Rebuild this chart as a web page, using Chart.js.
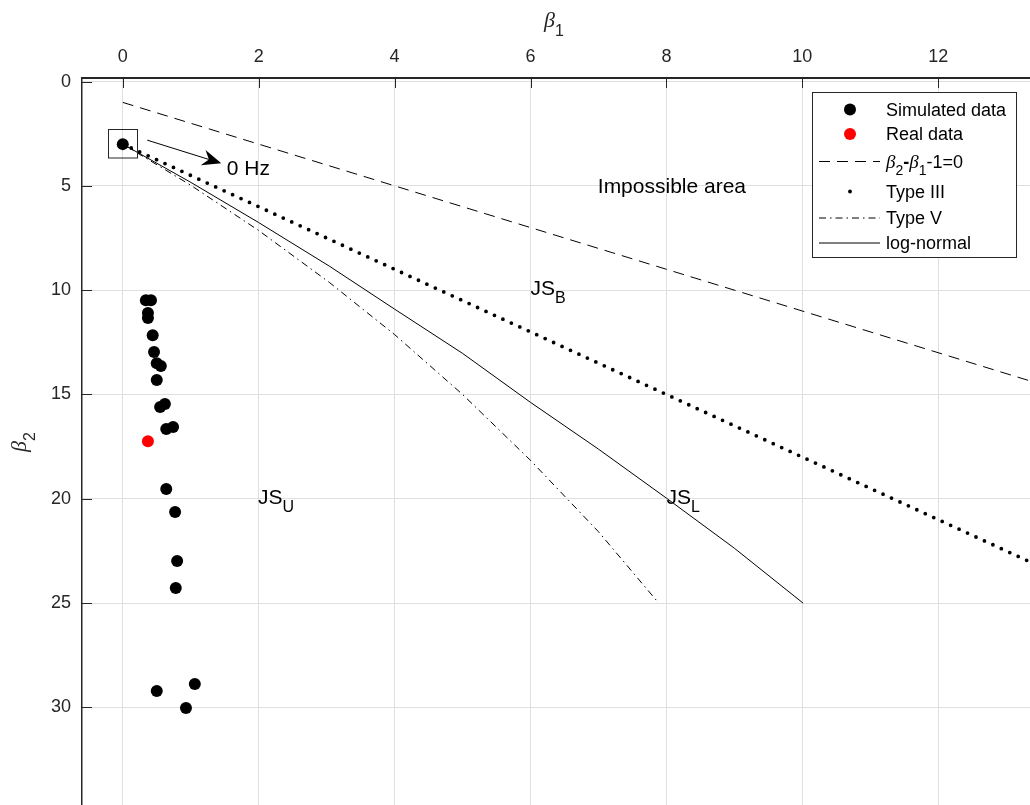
<!DOCTYPE html>
<html>
<head>
<meta charset="utf-8">
<title>β1–β2 plane</title>
<script src="https://cdn.jsdelivr.net/npm/chart.js@4/dist/chart.umd.min.js"></script>
<style>
  html, body { margin: 0; padding: 0; background: #ffffff; overflow: hidden; }
  canvas { display: block; }
</style>
</head>
<body>
<canvas id="c" width="1030" height="805"></canvas>
<script>
// Simulated (β1, β2) pairs; the first one is the 0 Hz case
const simulatedB1 = [0, 0.34, 0.415, 0.37, 0.37, 0.44, 0.46, 0.50, 0.56, 0.50, 0.62, 0.55, 0.74, 0.64, 0.64, 0.77, 0.80, 0.78, 1.06, 0.50, 0.93];
const simulatedB2 = [3.0, 10.48, 10.48, 11.10, 11.34, 12.16, 12.97, 13.50, 13.64, 14.31, 15.46, 15.60, 16.56, 16.66, 19.53, 20.64, 22.98, 24.28, 28.88, 29.21, 30.03];

// Measured record
const realB1 = [0.37];
const realB2 = [17.24];

// Limit line β2 - β1 - 1 = 0
const limitB1 = [0, 14];
const limitB2 = [1, 15];

// Pearson Type III line
const typeIIIB1 = [0, 14];
const typeIIIB2 = [3, 24];

// Pearson Type V curve
const typeVB1 = [0, 1, 2, 3.04, 4, 5, 6, 7, 7.86];
const typeVB2 = [3, 4.97, 7.14, 9.63, 12.13, 15.0, 18.16, 21.58, 24.9];

// Log-normal curve
const logNormalB1 = [0, 1, 2, 3.04, 4, 5, 6, 7, 8, 9, 10.01];
const logNormalB2 = [3, 4.83, 6.76, 8.85, 10.91, 13.03, 15.38, 17.62, 19.97, 22.37, 25.0];

// Axis ticks
const xTicks = [0, 2, 4, 6, 8, 10, 12];
const yTicks = [0, 5, 10, 15, 20, 25, 30];

const SANS = '"Liberation Sans", Arial, sans-serif';
const SERIF = '"Liberation Serif", "DejaVu Serif", serif';
const AXIS_COLOR = '#262626';
const GRID_COLOR = '#dfdfdf';

const pairs = (xs, ys) => xs.map((x, i) => ({ x: x, y: ys[i] }));

// Draws a run of text pieces (main text and subscripts) from a left x and a baseline
function drawRich(ctx, x, baseline, parts) {
  let cx = x;
  for (const p of parts) {
    ctx.font = p.font;
    ctx.fillText(p.t, cx, baseline + (p.dy || 0));
    cx += ctx.measureText(p.t).width;
  }
  return cx;
}
const sans = (s) => s + 'px ' + SANS;
const betaFont = (s) => 'italic ' + s + 'px ' + SERIF;

// Text labels, arrow and box inside the plot
const annotations = {
  id: 'annotations',
  afterDatasetsDraw(chart) {
    const ctx = chart.ctx;
    const X = chart.scales.x, Y = chart.scales.y;
    const ca = chart.chartArea;
    ctx.save();
    ctx.beginPath();
    ctx.rect(ca.left, ca.top, ca.right - ca.left, ca.bottom - ca.top);
    ctx.clip();
    ctx.fillStyle = '#000000';
    ctx.textBaseline = 'alphabetic';
    ctx.textAlign = 'left';

    const label = (b1, b2, main, sub) => {
      const x = X.getPixelForValue(b1);
      const yc = Y.getPixelForValue(b2);
      const parts = [{ t: main, font: sans(21) }];
      if (sub) parts.push({ t: sub, font: sans(16), dy: 8.2 });
      drawRich(ctx, x, yc + 7.5, parts);
    };
    label(6.99, 5.0, 'Impossible area');
    label(6.0, 9.88, 'JS', 'B');
    label(1.99, 19.9, 'JS', 'U');
    label(8.0, 19.9, 'JS', 'L');
    label(1.53, 4.1, '0 Hz');

    // box around the 0 Hz point
    const bx = X.getPixelForValue(0), by = Y.getPixelForValue(3);
    ctx.strokeStyle = AXIS_COLOR;
    ctx.lineWidth = 1;
    ctx.strokeRect(Math.round(bx - 14.5) + 0.5, Math.round(by - 15.5) + 0.5, 29, 28.5);

    // arrow towards the 0 Hz label
    const x0 = X.getPixelForValue(0.36), y0 = Y.getPixelForValue(2.81);
    const x1 = X.getPixelForValue(1.45), y1 = Y.getPixelForValue(3.92);
    const ang = Math.atan2(y1 - y0, x1 - x0);
    const hl = 19, hw = 8, notch = 6;
    const ux = Math.cos(ang), uy = Math.sin(ang);
    const nx = -uy, ny = ux;
    ctx.strokeStyle = '#000000';
    ctx.lineWidth = 1;
    ctx.beginPath();
    ctx.moveTo(x0, y0);
    ctx.lineTo(x1 - ux * (hl - notch), y1 - uy * (hl - notch));
    ctx.stroke();
    ctx.beginPath();
    ctx.moveTo(x1, y1);
    ctx.lineTo(x1 - ux * hl + nx * hw, y1 - uy * hl + ny * hw);
    ctx.lineTo(x1 - ux * (hl - notch), y1 - uy * (hl - notch));
    ctx.lineTo(x1 - ux * hl - nx * hw, y1 - uy * hl - ny * hw);
    ctx.closePath();
    ctx.fillStyle = '#000000';
    ctx.fill();
    ctx.restore();
  }
};

// Inward tick marks, axis titles and the legend box
const frame = {
  id: 'frame',
  afterDraw(chart) {
    const ctx = chart.ctx;
    const X = chart.scales.x, Y = chart.scales.y;
    const ca = chart.chartArea;
    ctx.save();
    ctx.strokeStyle = AXIS_COLOR;
    ctx.lineWidth = 1;
    X.ticks.forEach(t => {
      const x = Math.round(X.getPixelForValue(t.value)) + 0.5;
      ctx.beginPath(); ctx.moveTo(x, ca.top); ctx.lineTo(x, ca.top + 10); ctx.stroke();
    });
    Y.ticks.forEach(t => {
      const y = Math.round(Y.getPixelForValue(t.value)) + 0.5;
      ctx.beginPath(); ctx.moveTo(ca.left, y); ctx.lineTo(ca.left + 10, y); ctx.stroke();
    });

    // axis titles
    ctx.fillStyle = AXIS_COLOR;
    ctx.textBaseline = 'alphabetic';
    ctx.textAlign = 'left';
    drawRich(ctx, 544, 27, [
      { t: 'β', font: betaFont(22) },
      { t: '1', font: sans(16), dy: 9 }
    ]);
    ctx.save();
    ctx.translate(26, 452);
    ctx.rotate(-Math.PI / 2);
    drawRich(ctx, 0, 0, [
      { t: 'β', font: betaFont(22) },
      { t: '2', font: sans(16), dy: 9 }
    ]);
    ctx.restore();

    // legend
    const L = 812.5, T = 92.5, R = 1016.5, B = 257.5;
    ctx.fillStyle = '#ffffff';
    ctx.fillRect(L, T, R - L, B - T);
    ctx.strokeStyle = AXIS_COLOR;
    ctx.lineWidth = 1;
    ctx.strokeRect(L, T, R - L, B - T);

    const iconL = 819, iconR = 880, iconC = 850, textX = 886;
    const rows = [109.5, 134, 161.5, 191.5, 218, 243];
    const ds = chart.data.datasets;
    const baseOf = (yc) => yc + 6.4;

    // marker entries
    [[0, rows[0]], [1, rows[1]]].forEach(([i, yc]) => {
      ctx.beginPath();
      ctx.arc(iconC, yc, 6, 0, Math.PI * 2);
      ctx.fillStyle = ds[i].backgroundColor;
      ctx.fill();
    });
    // line entries
    const lineIcon = (i, yc) => {
      ctx.save();
      ctx.strokeStyle = ds[i].borderColor;
      ctx.lineWidth = ds[i].borderWidth;
      ctx.setLineDash(ds[i].borderDash || []);
      ctx.beginPath(); ctx.moveTo(iconL, yc); ctx.lineTo(iconR, yc); ctx.stroke();
      ctx.restore();
    };
    lineIcon(2, rows[2]);
    lineIcon(4, rows[4]);
    lineIcon(5, rows[5]);
    // Type III is drawn as dots: single dot icon
    ctx.beginPath();
    ctx.arc(iconC, rows[3], 1.9, 0, Math.PI * 2);
    ctx.fillStyle = '#000000';
    ctx.fill();

    ctx.fillStyle = '#000000';
    ctx.font = sans(18);
    ctx.fillText('Simulated data', textX, baseOf(rows[0]));
    ctx.fillText('Real data', textX, baseOf(rows[1]));
    drawRich(ctx, textX, baseOf(rows[2]), [
      { t: 'β', font: betaFont(19) },
      { t: '2', font: sans(14), dy: 7 },
      { t: '-', font: 'bold ' + sans(18) },
      { t: 'β', font: betaFont(19) },
      { t: '1', font: sans(14), dy: 7 },
      { t: '-1=0', font: sans(18) }
    ]);
    ctx.font = sans(18);
    ctx.fillText('Type III', textX, baseOf(rows[3]));
    ctx.fillText('Type V', textX, baseOf(rows[4]));
    ctx.fillText('log-normal', textX, baseOf(rows[5]));
    ctx.restore();
  }
};

const lineStyle = {
  showLine: true,
  pointRadius: 0,
  pointHoverRadius: 0,
  fill: false,
  tension: 0,
  borderColor: '#000000',
  backgroundColor: '#000000'
};

// Fixed axis band sizes, without extra room reserved for edge labels
const fixBand = (size, horizontal) => (s) => {
  if (horizontal) s.height = size; else s.width = size;
  s.paddingTop = 0; s.paddingBottom = 0; s.paddingLeft = 0; s.paddingRight = 0;
};

new Chart(document.getElementById('c'), {
  type: 'scatter',
  data: {
    datasets: [
      {
        label: 'Simulated data',
        data: pairs(simulatedB1, simulatedB2),
        backgroundColor: '#000000',
        borderColor: '#000000',
        borderWidth: 0,
        pointRadius: 6,
        pointHoverRadius: 6
      },
      {
        label: 'Real data',
        data: pairs(realB1, realB2),
        backgroundColor: '#ff0000',
        borderColor: '#ff0000',
        borderWidth: 0,
        pointRadius: 6,
        pointHoverRadius: 6
      },
      Object.assign({}, lineStyle, {
        label: 'β2-β1-1=0',
        data: pairs(limitB1, limitB2),
        borderWidth: 1,
        borderDash: [11, 7]
      }),
      Object.assign({}, lineStyle, {
        label: 'Type III',
        data: pairs(typeIIIB1, typeIIIB2),
        borderWidth: 3.8,
        borderDash: [0, 9.3],
        borderCapStyle: 'round'
      }),
      Object.assign({}, lineStyle, {
        label: 'Type V',
        data: pairs(typeVB1, typeVB2),
        borderWidth: 1,
        borderDash: [7, 4, 1.5, 4]
      }),
      Object.assign({}, lineStyle, {
        label: 'log-normal',
        data: pairs(logNormalB1, logNormalB2),
        borderWidth: 1
      })
    ]
  },
  options: {
    responsive: false,
    animation: false,
    events: [],
    layout: { padding: 0, autoPadding: false },
    plugins: {
      legend: { display: false },
      tooltip: { enabled: false }
    },
    scales: {
      x: {
        type: 'linear',
        position: 'top',
        min: -0.6,
        max: 13.35,
        afterBuildTicks(s) { s.ticks = xTicks.map(v => ({ value: v })); },
        afterFit: fixBand(78, true),
        ticks: {
          color: AXIS_COLOR,
          font: { family: SANS, size: 18 },
          padding: 10,
          maxRotation: 0,
          autoSkip: false
        },
        grid: { color: GRID_COLOR, lineWidth: 1, drawTicks: false },
        border: { color: AXIS_COLOR, width: 2 }
      },
      y: {
        type: 'linear',
        position: 'left',
        reverse: true,
        min: -0.17,
        max: 34.68,
        afterBuildTicks(s) { s.ticks = yTicks.map(v => ({ value: v })); },
        afterFit: fixBand(82, false),
        ticks: {
          color: AXIS_COLOR,
          font: { family: SANS, size: 18 },
          padding: 11,
          autoSkip: false
        },
        grid: { color: GRID_COLOR, lineWidth: 1, drawTicks: false },
        border: { color: AXIS_COLOR, width: 1.5 }
      }
    }
  },
  plugins: [annotations, frame]
});
</script>
</body>
</html>
